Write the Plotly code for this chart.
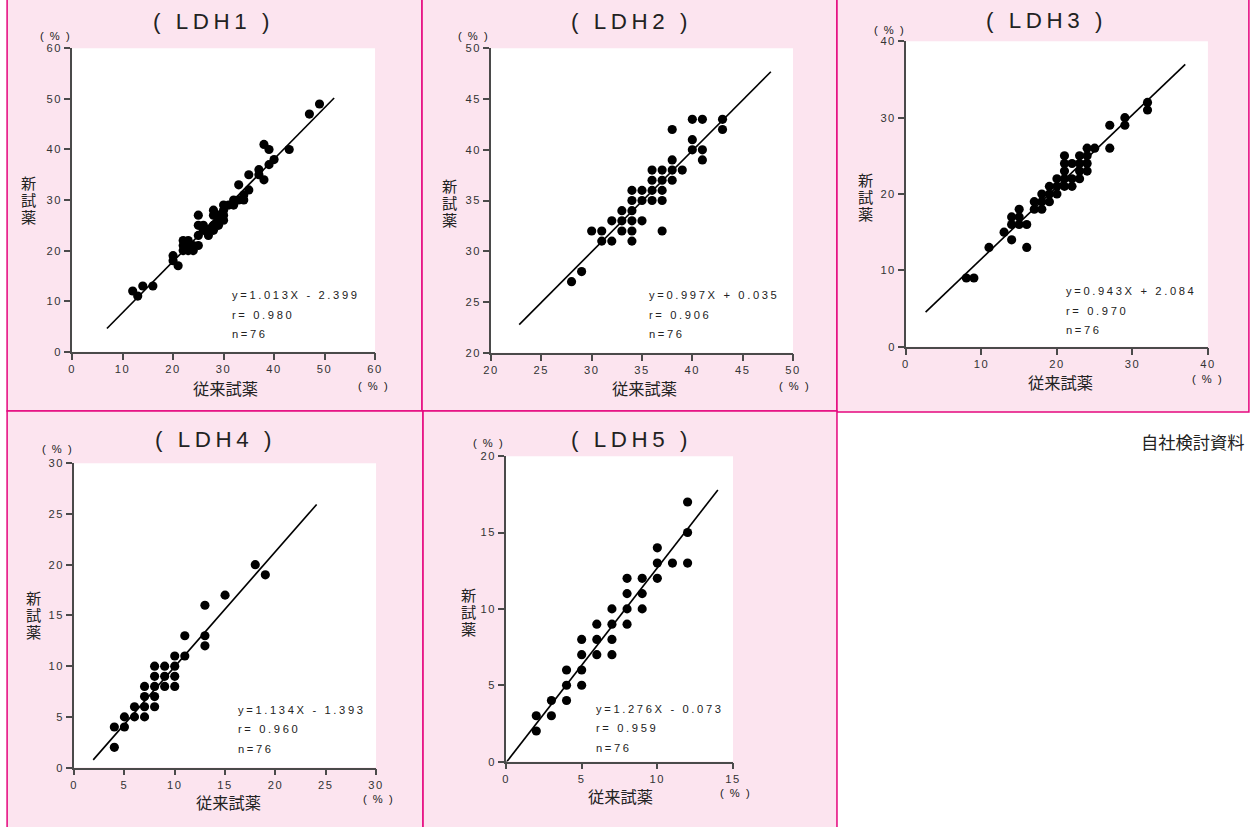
import plotly.graph_objects as go

# Figure size and the measured mapping from figure paper to the captured window
W, H = 1258, 827
OX, OY = 7.9, 7.85          # window offset of the figure
SW, SH = 1242.2, 811.3      # window extent of the figure
SZ = 1.0 / 0.984            # size compensation for the capture scaling

# ---------------- data ----------------
titles = ["LDH1", "LDH2", "LDH3", "LDH4", "LDH5"]

x1 = [12, 13, 14, 16, 20, 20, 21, 22, 22, 22, 23, 23, 23, 24, 24, 25, 25, 25, 25, 26, 26, 27, 27,
      28, 28, 28, 28, 29, 29, 29, 30, 30, 30, 30, 31, 32, 32, 33, 33, 34, 34, 35, 35, 37, 37, 38, 38,
      39, 39, 40, 43, 47, 49]
y1 = [12, 11, 13, 13, 19, 18, 17, 22, 21, 20, 22, 21, 20, 21, 20, 21, 27, 25, 23, 25, 24, 23, 24,
      28, 27, 25, 24, 26, 25, 27, 27, 28, 29, 26, 29, 29, 30, 30, 33, 30, 31, 32, 35, 36, 35, 34, 41,
      40, 37, 38, 40, 47, 49]

x2 = [28, 29, 30, 31, 31, 32, 32, 33, 33, 33, 34, 34, 34, 34, 34, 34, 35, 35, 35, 36, 36, 36, 36,
      37, 37, 37, 37, 37, 38, 38, 38, 38, 39, 40, 40, 40, 41, 41, 41, 43, 43]
y2 = [27, 28, 32, 32, 31, 33, 31, 34, 33, 32, 36, 35, 34, 33, 32, 31, 36, 35, 33, 38, 37, 36, 35,
      38, 37, 36, 35, 32, 42, 39, 38, 37, 38, 43, 41, 40, 43, 40, 39, 43, 42]

x3 = [8, 9, 11, 13, 14, 14, 14, 15, 15, 15, 16, 16, 17, 17, 18, 18, 18, 19, 19, 19, 20, 20, 20,
      21, 21, 21, 21, 21, 22, 22, 22, 23, 23, 23, 23, 24, 24, 24, 24, 25, 27, 27, 29, 29, 32, 32]
y3 = [9, 9, 13, 15, 17, 16, 14, 18, 17, 16, 16, 13, 19, 18, 20, 19, 18, 21, 20, 19, 22, 21, 20,
      25, 24, 23, 22, 21, 24, 22, 21, 25, 24, 23, 22, 26, 25, 24, 23, 26, 29, 26, 30, 29, 32, 31]

x4 = [4, 4, 5, 5, 6, 6, 7, 7, 7, 7, 8, 8, 8, 8, 8, 9, 9, 9, 10, 10, 10, 10, 11, 11, 13, 13, 13,
      15, 18, 19]
y4 = [4, 2, 5, 4, 6, 5, 8, 7, 6, 5, 10, 9, 8, 7, 6, 10, 9, 8, 11, 10, 9, 8, 13, 11, 16, 13, 12,
      17, 20, 19]

x5 = [2, 2, 3, 3, 4, 4, 4, 5, 5, 5, 5, 6, 6, 6, 7, 7, 7, 7, 8, 8, 8, 8, 9, 9, 9, 10, 10, 10, 11,
      12, 12, 12]
y5 = [3, 2, 4, 3, 6, 5, 4, 8, 7, 6, 5, 9, 8, 7, 10, 9, 8, 7, 12, 11, 10, 9, 12, 11, 10, 14, 13,
      12, 13, 17, 15, 13]

slopes = [1.013, 0.997, 0.943, 1.134, 1.276]
intercepts = [-2.399, 0.035, 2.084, -1.393, -0.073]
fit_x_ranges = [[6.9, 51.9], [22.8, 47.8], [2.6, 37.0], [1.9, 24.1], [0.0, 14.0]]

eq_labels = ["y=1.013X - 2.399", "y=0.997X + 0.035", "y=0.943X + 2.084",
             "y=1.134X - 1.393", "y=1.276X - 0.073"]
r_labels = ["r= 0.980", "r= 0.906", "r= 0.970", "r= 0.960", "r= 0.959"]
n_labels = ["n=76", "n=76", "n=76", "n=76", "n=76"]

x_ranges = [[0, 60], [20, 50], [0, 40], [0, 30], [0, 15]]
y_ranges = [[0, 60], [20, 50], [0, 40], [0, 30], [0, 20]]
x_ticks = [[0, 10, 20, 30, 40, 50, 60], [20, 25, 30, 35, 40, 45, 50], [0, 10, 20, 30, 40],
           [0, 5, 10, 15, 20, 25, 30], [0, 5, 10, 15]]
y_ticks = [[0, 10, 20, 30, 40, 50, 60], [20, 25, 30, 35, 40, 45, 50], [0, 10, 20, 30, 40],
           [0, 5, 10, 15, 20, 25, 30], [0, 5, 10, 15, 20]]

y_axis_title = "新<br>試<br>薬"
x_axis_title = "従来試薬"
unit_label = "( % )"
source_note = "自社検討資料"

xs = [x1, x2, x3, x4, x5]
ys = [y1, y2, y3, y4, y5]

# ---------------- layout geometry (window pixels) ----------------
panel_boxes = [(7, -5, 422, 411), (422, -5, 837, 411), (837, -5, 1249, 412),
               (7, 411, 423, 840), (423, 411, 837, 840)]
plot_boxes = [(72, 50, 375, 352), (491, 50, 793, 353), (906, 43, 1208, 347),
              (74, 463, 376, 766), (506, 456, 733, 760)]
title_pos = [(213, 23), (632, 23), (1047, 22), (215, 439), (632, 439)]
yunit_pos = [(55, 38), (473, 38), (890, 32), (57, 449), (488, 443)]
ytitle_pos = [(28, 200), (449, 203), (866, 197), (33, 613), (468, 610)]
xtitle_pos = [(225, 388), (645, 388), (1061, 382), (228, 800), (620, 794)]
xunit_pos = [(373, 386), (795, 386), (1208, 379), (378, 797), (736, 791)]
stat_pos = [(230, 296), (647, 296), (1064, 292), (236, 709), (594, 708)]
stat_gap = 19

PINK = "#fce4ef"
MAGENTA = "#e5087f"
AXIS = "#4a4a4a"
TXT = "#222222"
LATIN = "Liberation Sans, Arial, sans-serif"
CJK = "Noto Sans CJK JP, sans-serif"


def px(x):
    return (x - OX) / SW


def py(y):
    return 1 - (y - OY) / SH


def z(v):
    return round(v * SZ, 2)


def spaced(s, sp):
    return f'<span style="letter-spacing:{z(sp)}px">{s}</span>'


fig = go.Figure()
shapes = []
annotations = []


def ann(text, pos, size, family=LATIN, xanchor="center", yanchor="middle"):
    annotations.append(dict(text=text, x=px(pos[0]), y=py(pos[1]), xref="paper",
                            yref="paper", showarrow=False, xanchor=xanchor,
                            yanchor=yanchor, font=dict(size=z(size), color=TXT, family=family)))


for i in range(5):
    k = "" if i == 0 else str(i + 1)
    xa, ya = "x" + k, "y" + k
    fig.add_trace(go.Scatter(x=xs[i], y=ys[i], mode="markers", xaxis=xa, yaxis=ya,
                             marker=dict(color="black", size=z(9), line=dict(width=0)),
                             showlegend=False, hoverinfo="skip"))
    fx = fit_x_ranges[i]
    fy = [slopes[i] * v + intercepts[i] for v in fx]
    fig.add_trace(go.Scatter(x=fx, y=fy, mode="lines", xaxis=xa, yaxis=ya,
                             line=dict(color="black", width=z(1.6)),
                             showlegend=False, hoverinfo="skip"))

    l, t, r, b = plot_boxes[i]
    axcommon = dict(showgrid=False, zeroline=False, showline=True, linecolor=AXIS,
                    linewidth=z(1.5), ticks="outside", ticklen=z(6), tickwidth=z(1.5),
                    tickcolor=AXIS, tickfont=dict(size=z(11), color="#333333", family=LATIN),
                    fixedrange=True, tickmode="array", layer="above traces")
    fig.layout["xaxis" + k] = dict(axcommon, domain=[px(l), px(r)], range=x_ranges[i],
                                   anchor=ya, tickvals=x_ticks[i],
                                   ticktext=[spaced(str(v), 1.5) for v in x_ticks[i]])
    fig.layout["yaxis" + k] = dict(axcommon, domain=[py(b), py(t)], range=y_ranges[i],
                                   anchor=xa, tickvals=y_ticks[i],
                                   ticktext=[spaced(str(v), 1.5) for v in y_ticks[i]])

    bl, bt, br, bb = panel_boxes[i]
    shapes.append(dict(type="rect", xref="paper", yref="paper", layer="below",
                       x0=px(bl), x1=px(br), y0=py(bb), y1=py(bt),
                       fillcolor=PINK, line=dict(color=MAGENTA, width=z(1.5))))

    ann(spaced("( " + titles[i] + " )", 4.5), title_pos[i], 22)
    ann(spaced(unit_label, 1.5), yunit_pos[i], 11)
    ann(spaced(unit_label, 1.5), xunit_pos[i], 11)
    ann(x_axis_title, xtitle_pos[i], 16, family=CJK)
    ytxt = "<br>".join(f'<span style="font-size:{z(15)}px">{c}</span>'
                       for c in y_axis_title.split("<br>"))
    ann(ytxt, ytitle_pos[i], 13, family=CJK)
    sx, sy = stat_pos[i]
    for j, s in enumerate([eq_labels[i], r_labels[i], n_labels[i]]):
        ann(spaced(s, 2.6), (sx, sy + j * stat_gap), 11, xanchor="left")

# white plotting areas on top of the pink panels
for (l, t, r, b) in plot_boxes:
    shapes.append(dict(type="rect", xref="paper", yref="paper", layer="below",
                       x0=px(l), x1=px(r), y0=py(b), y1=py(t),
                       fillcolor="white", line=dict(width=0)))

ann(source_note, (1193, 441), 17, family=CJK)

fig.update_layout(width=W, height=H, margin=dict(l=0, r=0, t=0, b=0), autosize=False,
                  paper_bgcolor="white", plot_bgcolor="white", shapes=shapes,
                  annotations=annotations, font=dict(family=LATIN, color=TXT),
                  showlegend=False)

fig.write_html("out.html", config={"displayModeBar": False, "responsive": False},
               post_script="document.documentElement.style.margin='0px';"
                           "document.body.style.margin='0px';")
